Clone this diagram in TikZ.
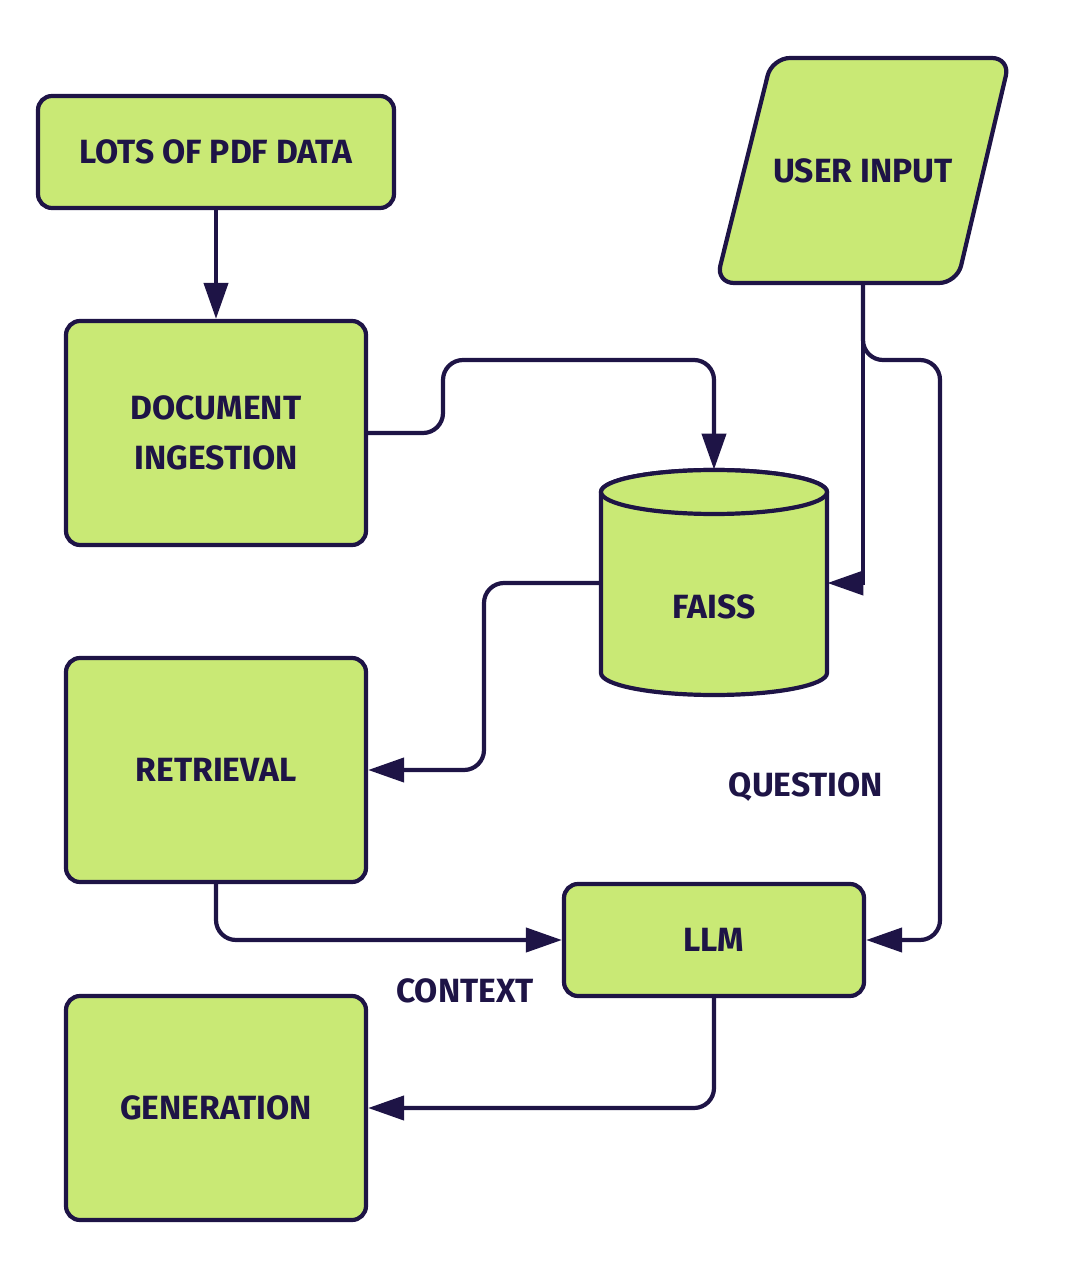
\documentclass[tikz,border=0pt]{standalone}
\usepackage{fontspec}
\setmainfont{Fira Sans}
\usetikzlibrary{arrows.meta}
\definecolor{ink}{RGB}{30,20,70}
\definecolor{lime}{RGB}{201,233,117}
\newcommand\lblfont{\bfseries\fontsize{16.8}{25}\selectfont}

\begin{document}
\begin{tikzpicture}[x=0.5pt,y=-0.5pt,
    box/.style={draw=ink,fill=lime,line width=2.1pt,rounded corners=7pt},
    lbl/.style={text=ink,font=\lblfont,align=center},
    blk/.style={box,lbl,minimum width=150pt,minimum height=112pt},
    wire/.style={draw=ink,line width=2.1pt,rounded corners=10pt,-{Triangle[length=18pt,width=12pt]}}]
          \useasboundingbox (0,0) rectangle (1073,1277);
          \node[box,lbl,minimum width=178pt,minimum height=56pt] (pdf) at (216,152) {LOTS OF PDF DATA};
          \node[blk] (ingest) at (216,433) {DOCUMENT\\INGESTION};
          \node[blk] (retr) at (216,770) {RETRIEVAL};
          \node[blk] (gen) at (216,1108) {GENERATION};
          \node[box,lbl,minimum width=150pt,minimum height=56pt] (llm) at (714,940) {LLM};
          \draw[box,rounded corners=9pt] (772,58) -- (1010,58) -- (957,283) -- (716,283) -- cycle;
          \node[lbl,minimum height=112.5pt] (user) at (863,170.5) {USER INPUT};
          \draw[box,rounded corners=0pt] (601,492) -- (601,673) arc[start angle=180,end angle=0,x radius=113,y radius=22]
            -- (827,492) arc[start angle=0,end angle=-180,x radius=113,y radius=22] -- cycle;
          \draw[box,rounded corners=0pt] (714,492) ellipse[x radius=113,y radius=22];
          \node[minimum width=113pt,minimum height=113pt,label={[lbl,yshift=-12pt]center:FAISS}] (faiss) at (714,583) {};
          \node[lbl] (qlbl) at (806,787) {QUESTION};
          \node[lbl] (clbl) at (465,991) {CONTEXT};
          \coordinate (dbend) at (443,360);
          \coordinate (rbend) at (484,680);
          \coordinate (qbend) at (940,360);
          \draw[wire] (pdf.south) -- (ingest.north);
          \draw[wire] (ingest.east) -| (dbend) -| (faiss.north);
          \draw[wire] (faiss.west) -| (rbend) |- (retr.east);
          \draw[wire,sharp corners] (user.south) |- (faiss.east);
          \draw[wire] (user.south) |- (qbend) |- (llm.east);
          \draw[wire] (retr.south) |- (llm.west);
          \draw[wire] (llm.south) |- (gen.east);
        \end{tikzpicture}
\end{document}
